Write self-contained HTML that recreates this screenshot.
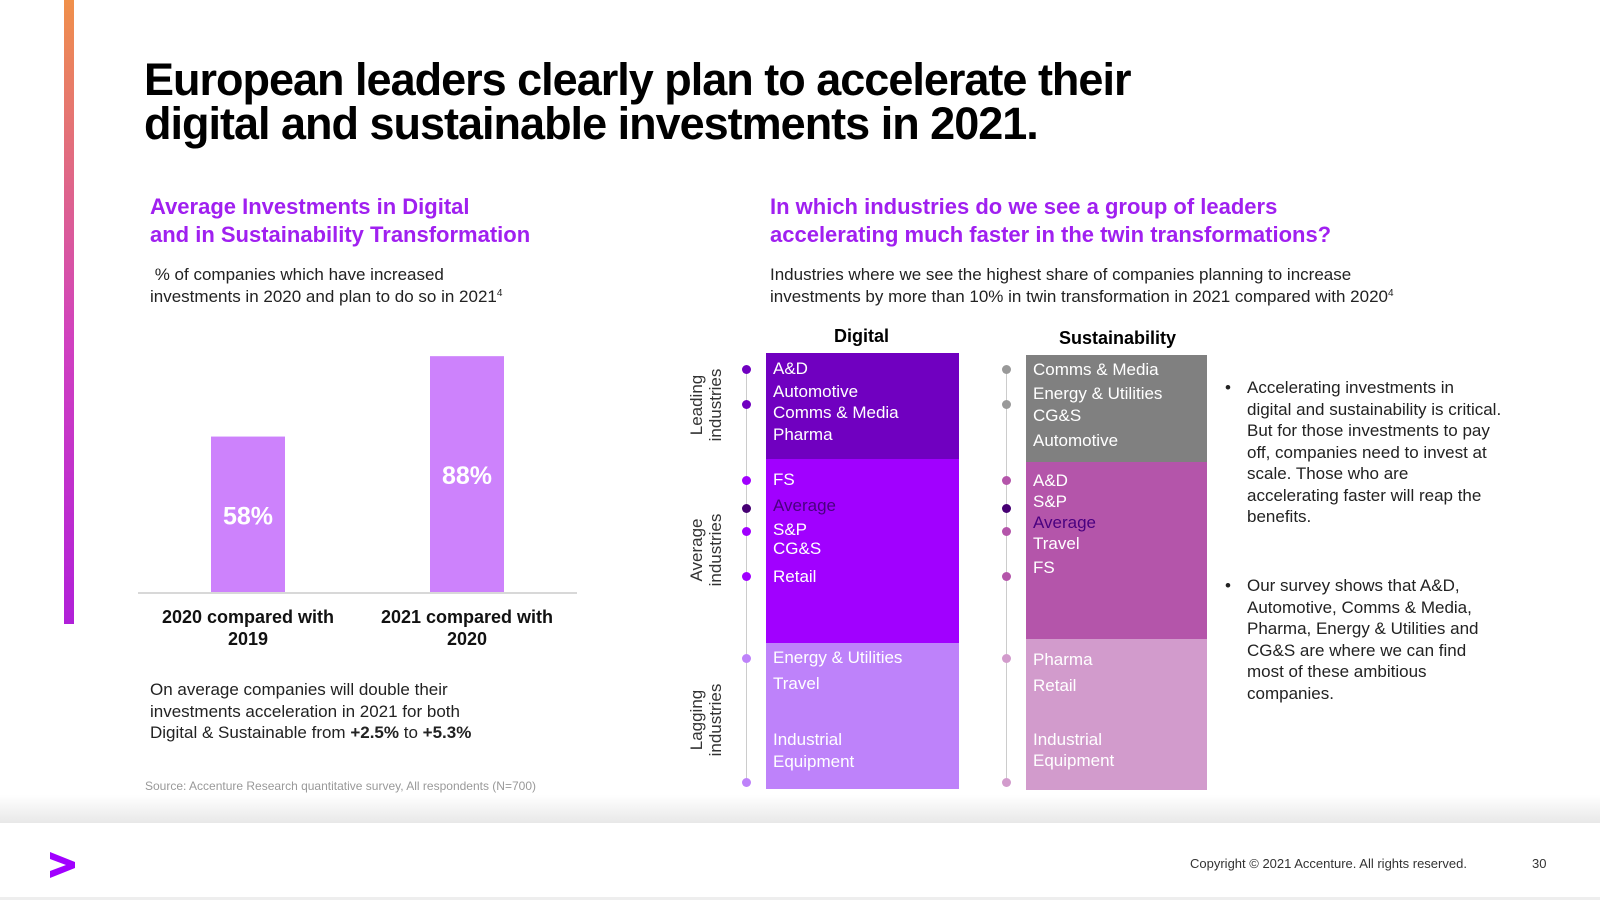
<!DOCTYPE html>
<html><head><meta charset="utf-8"><style>
*{margin:0;padding:0;box-sizing:border-box}
body{width:1600px;height:900px;position:relative;background:#fff;font-family:"Liberation Sans",sans-serif;color:#222;overflow:hidden}
.a{position:absolute;white-space:nowrap}
.h2{color:#a020f0;font-size:22px;line-height:28px;font-weight:bold}
.p{font-size:17px;line-height:21.5px;color:#222}
sup{font-size:10px;line-height:0;vertical-align:6px}
.it{position:absolute;font-size:17px;color:#fff;white-space:nowrap;line-height:20px}
.dot{position:absolute;width:9px;height:9px;border-radius:50%}
.rot{position:absolute;transform:translate(-50%,-50%) rotate(-90deg);font-size:17px;line-height:19px;color:#333;text-align:center;white-space:nowrap}
</style></head><body>
<div class="a" style="left:64px;top:0;width:10px;height:624px;background:linear-gradient(#f0904a,#d040c0 55%,#b020d8)"></div>
<div class="a" style="left:144px;top:58px;font-size:45px;font-weight:bold;line-height:44px;letter-spacing:-1px;color:#000">European leaders clearly plan to accelerate their<br>digital and sustainable investments in 2021.</div>

<div class="a h2" style="left:150px;top:193px">Average Investments in Digital<br>and in Sustainability Transformation</div>
<div class="a p" style="left:150px;top:264px">&nbsp;% of companies which have increased<br>investments in 2020 and plan to do so in 2021<sup>4</sup></div>

<svg class="a" style="left:0;top:0" width="1600" height="900" id="chart"></svg>

<div class="a p" style="left:150px;top:679px">On average companies will double their<br>investments acceleration in 2021 for both<br>Digital &amp; Sustainable from <b>+2.5%</b> to <b>+5.3%</b></div>
<div class="a" style="left:145px;top:779px;font-size:12px;color:#999">Source: Accenture Research quantitative survey, All respondents (N=700)</div>

<div class="a h2" style="left:770px;top:193px">In which industries do we see a group of leaders<br>accelerating much faster in the twin transformations?</div>
<div class="a p" style="left:770px;top:264px">Industries where we see the highest share of companies planning to increase<br>investments by more than 10% in twin transformation in 2021 compared with 2020<sup>4</sup></div>

<div class="a" style="left:834px;top:326px;font-size:18px;font-weight:bold;color:#000">Digital</div>
<div class="a" style="left:1059px;top:328px;font-size:18px;font-weight:bold;color:#000">Sustainability</div>

<div class="rot" style="left:706px;top:405px">Leading<br>industries</div>
<div class="rot" style="left:706px;top:550px">Average<br>industries</div>
<div class="rot" style="left:706px;top:720px">Lagging<br>industries</div>

<div class="a" style="left:746px;top:369px;width:1px;height:413px;background:#ccc"></div>
<div class="a" style="left:1006px;top:369px;width:1px;height:413px;background:#ccc"></div>

<div class="a" style="left:766px;top:353px;width:193px;height:106px;background:#7000c0"></div>
<div class="a" style="left:766px;top:459px;width:193px;height:184px;background:#a100ff"></div>
<div class="a" style="left:766px;top:643px;width:193px;height:146px;background:#be82fa"></div>
<div class="a" style="left:1026px;top:355px;width:181px;height:107px;background:#808080"></div>
<div class="a" style="left:1026px;top:462px;width:181px;height:177px;background:#b455aa"></div>
<div class="a" style="left:1026px;top:639px;width:181px;height:151px;background:#d29bcc"></div>

<div id="items"></div>

<div class="a p" style="left:1247px;top:377px;white-space:normal;width:255px">
<span style="position:absolute;left:-22px">•</span>Accelerating investments in digital and sustainability is critical. But for those investments to pay off, companies need to invest at scale. Those who are accelerating faster will reap the benefits.</div>
<div class="a p" style="left:1247px;top:575px;white-space:normal;width:255px">
<span style="position:absolute;left:-22px">•</span>Our survey shows that A&amp;D, Automotive, Comms &amp; Media, Pharma, Energy &amp; Utilities and CG&amp;S are where we can find most of these ambitious companies.</div>

<div class="a" style="left:0;top:795px;width:1600px;height:28px;background:linear-gradient(#fff,#e8e8e8)"></div>
<div class="a" style="left:0;top:897px;width:1600px;height:3px;background:#eee"></div>
<svg class="a" style="left:50px;top:852px" width="26" height="26"><path d="M0 0 L25 10 L25 16 L0 26 L0 19 L16 13 L0 7Z" fill="#a100ff"/></svg>
<div class="a" style="left:1190px;top:856px;font-size:13px;color:#333">Copyright © 2021 Accenture. All rights reserved.</div>
<div class="a" style="left:1532px;top:856px;font-size:13px;color:#333">30</div>

<script>
const categories=["2020 compared with|2019","2021 compared with|2020"];
const values=[58,88];
const valueLabels=["58%","88%"];
const NS="http://www.w3.org/2000/svg";
const svg=document.getElementById('chart');
const base=592, pxPer=2.68;
function yScale(v){return base-v*pxPer;}
function xCenter(i){return 248+i*219;}
const bw=74;
let ax=document.createElementNS(NS,'line');
ax.setAttribute('x1',138);ax.setAttribute('x2',577);ax.setAttribute('y1',base+1);ax.setAttribute('y2',base+1);
ax.setAttribute('stroke','#d8d8d8');ax.setAttribute('stroke-width',2);


svg.appendChild(ax);
values.forEach((v,i)=>{
  const r=document.createElementNS(NS,'rect');
  r.setAttribute('x',xCenter(i)-bw/2);r.setAttribute('y',yScale(v));r.setAttribute('width',bw);r.setAttribute('height',base-yScale(v));r.setAttribute('fill','#cd82fc');
  
  
  svg.appendChild(r);
  const t=document.createElementNS(NS,'text');
  t.setAttribute('x',xCenter(i));t.setAttribute('y',yScale(v)+((base-yScale(v))*0.5)+10);
  t.setAttribute('text-anchor','middle');t.setAttribute('fill','#fff');t.setAttribute('font-size','25');t.setAttribute('font-weight','bold');
  t.setAttribute('font-family','Liberation Sans, sans-serif');
  t.textContent=valueLabels[i];
  
  
  svg.appendChild(t);
  categories[i].split('|').forEach((ln,k)=>{
    const c=document.createElementNS(NS,'text');
    c.setAttribute('x',xCenter(i));c.setAttribute('y',623+k*22);c.setAttribute('text-anchor','middle');
    c.setAttribute('font-size','18');c.setAttribute('font-weight','bold');c.setAttribute('fill','#111');
    c.setAttribute('font-family','Liberation Sans, sans-serif');
    c.textContent=ln;
    
    
    svg.appendChild(c);
  });
});
const digitalItems=["A&D","Automotive","Comms & Media","Pharma","FS","Average","S&P","CG&S","Retail","Energy & Utilities","Travel","Industrial","Equipment"];
const digitalY=[359,382,403,425,470,496,520,539,567,648,674,730,752];
const sustItems=["Comms & Media","Energy & Utilities","CG&S","Automotive","A&D","S&P","Average","Travel","FS","Pharma","Retail","Industrial","Equipment"];
const sustY=[360,384,406,431,471,492,513,534,558,650,676,730,751];
const dotY=[369,404,480,508,531,576,658,782];
const digDotCol=["#7000c0","#7000c0","#a100ff","#460073","#a100ff","#a100ff","#be82fa","#be82fa"];
const susDotCol=["#999","#999","#b455aa","#460073","#b455aa","#b455aa","#d29bcc","#d29bcc"];
const box=document.getElementById('items');
function addItems(list,ys,x,pref){
  list.forEach((s,i)=>{
    const d=document.createElement('div');d.className='it';
    d.style.left=x+'px';d.style.top=ys[i]+'px';d.textContent=s;
    if(s==='Average')d.style.color='#4a0080';
    
    
    box.appendChild(d);
  });
}
addItems(digitalItems,digitalY,773,'digital');
addItems(sustItems,sustY,1033,'sustainability');
function addDots(cols,x,pref){
  dotY.forEach((y,i)=>{
    const d=document.createElement('div');d.className='dot';
    d.style.left=(x-4)+'px';d.style.top=(y-4)+'px';d.style.background=cols[i];
    
    
    box.appendChild(d);
  });
}
addDots(digDotCol,746,'digital');
addDots(susDotCol,1006,'sustainability');
</script>
</body></html>
